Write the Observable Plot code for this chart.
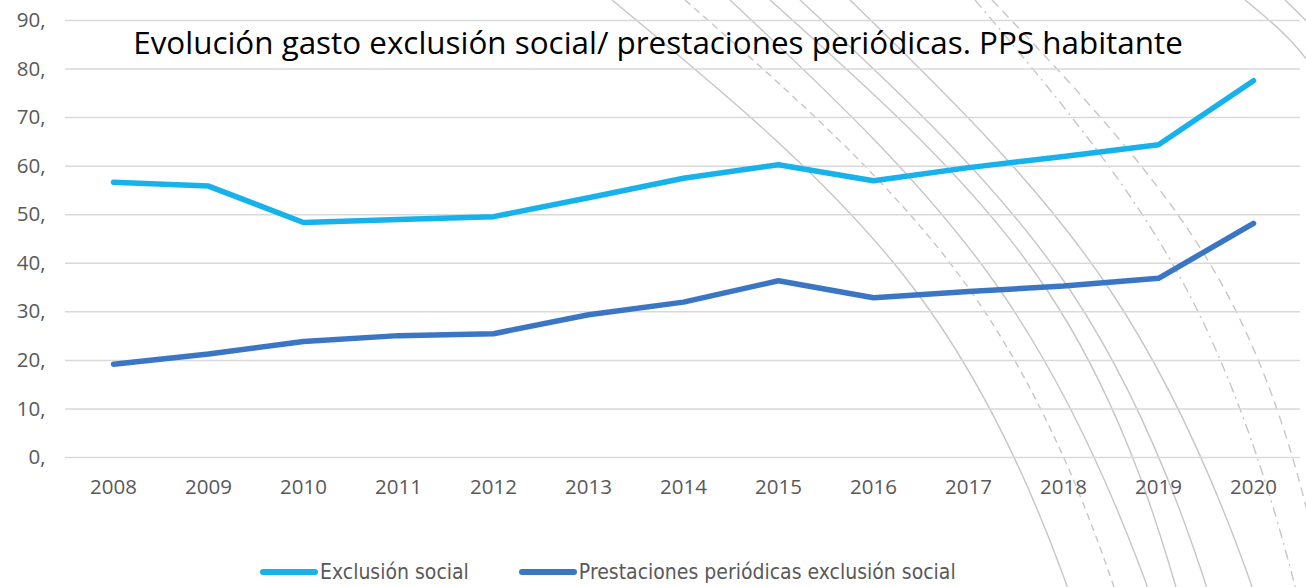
<!DOCTYPE html>
<html>
<head>
<meta charset="utf-8">
<script src="https://cdn.jsdelivr.net/npm/d3@7"></script>
<script src="https://cdn.jsdelivr.net/npm/@observablehq/plot@0.6"></script>
<style>
  html, body { margin: 0; padding: 0; background: #fff; }
  #wrap { position: relative; width: 1306px; height: 587px; overflow: hidden; }
  #deco { position: absolute; left: 0; top: 0; }
  #chart { position: absolute; left: 0; top: 0; }
  #title { position: absolute; left: 0; width: 1316px; top: 20px; text-align: center;
           font-family: "Open Sans", sans-serif; font-size: 31.4px; color: #000; white-space: nowrap; }
  #legend { position: absolute; top: 560px; left: 260px; display: flex; align-items: center;
            font-family: "Liberation Sans Narrow", "DejaVu Sans Condensed", sans-serif; font-size: 21px; color: #595959; }
  .item { display: flex; align-items: center; margin-right: 50px; }
  .sw { width: 58px; height: 6px; border-radius: 3px; margin-right: 2px; }
</style>
</head>
<body>
<div id="wrap">
  <svg id="deco" width="1306" height="587"></svg>
  <div id="chart"></div>
  <div id="title">Evolución gasto exclusión social/ prestaciones periódicas. PPS habitante</div>
  <div id="legend"></div>
</div>
<script>
// ---- data ----
const years = ["2008","2009","2010","2011","2012","2013","2014","2015","2016","2017","2018","2019","2020"];
const exclusionSocial = [56.7, 55.9, 48.4, 49.0, 49.6, 53.5, 57.5, 60.3, 57.0, 59.7, 62.0, 64.4, 77.6];
const prestacionesPeriodicas = [19.2, 21.3, 23.9, 25.1, 25.5, 29.4, 32.0, 36.4, 32.9, 34.2, 35.3, 36.9, 48.2];
const seriesNames = ["Exclusión social", "Prestaciones periódicas exclusión social"];
const seriesColors = ["#17b2ec", "#3b76c4"];
const yTicks = [0, 10, 20, 30, 40, 50, 60, 70, 80, 90];

// decorative background arcs (theme decoration, not data)
const decoArcs = [
  {pts: [[612,0],[915,290],[1060,567],[1068,600]], dash: null},
  {pts: [[685,0],[970,290],[1107,567],[1115,600]], dash: "7,5"},
  {pts: [[730,0],[1000,290],[1140,567],[1148,600]], dash: null},
  {pts: [[770,0],[1047,290],[1170,567],[1177,600]], dash: null},
  {pts: [[800,0],[1070,290],[1200,567],[1207,600]], dash: null},
  {pts: [[850,0],[1110,290],[1245,567],[1252,600]], dash: null},
  {pts: [[975,0],[1187,290],[1290,567],[1296,600]], dash: "10,5,2,5"},
  {pts: [[992,0],[1225,290],[1320,567],[1325,600]], dash: "9,6"},
  {pts: [[1245,0],[1290,40],[1330,90]], dash: null},
  {pts: [[1285,0],[1310,25],[1330,50]], dash: null}
];

const deco = d3.select("#deco");
const lineGen = d3.line().curve(d3.curveNatural);
decoArcs.forEach(a => {
  deco.append("path").attr("d", lineGen(a.pts)).attr("fill", "none")
    .attr("stroke", "#c6c6c6").attr("stroke-width", 1.4)
    .attr("stroke-dasharray", a.dash);
});

// ---- table ----
const rows = [];
years.forEach((y, i) => {
  rows.push({year: y, value: exclusionSocial[i], series: seriesNames[0]});
  rows.push({year: y, value: prestacionesPeriodicas[i], series: seriesNames[1]});
});

const chart = Plot.plot({
  width: 1306,
  height: 540,
  marginLeft: 65,
  marginRight: 6,
  marginTop: 20,
  marginBottom: 83,
  style: {background: "transparent", fontFamily: "'Open Sans', sans-serif", fontSize: "20.5px", color: "#595959"},
  x: {type: "point", domain: years, padding: 0.5, label: null},
  y: {domain: [0, 90], label: null},
  color: {domain: seriesNames, range: seriesColors},
  marks: [
    Plot.ruleY(yTicks, {stroke: "#d9d9d9", strokeWidth: 1.5}),
    Plot.axisY(yTicks, {tickSize: 0, tickPadding: 20, tickFormat: d => d + ",", label: null, fill: "#595959"}),
    Plot.axisX({tickSize: 0, tickPadding: 22, label: null, fill: "#595959"}),
    Plot.line(rows, {x: "year", y: "value", z: "series", stroke: "series", strokeWidth: 5.5,
      strokeLinecap: "round", strokeLinejoin: "round"})
  ]
});
document.getElementById("chart").appendChild(chart);

// legend
const legend = d3.select("#legend");
seriesNames.forEach((n, i) => {
  const it = legend.append("div").attr("class", "item");
  it.append("div").attr("class", "sw").style("background", seriesColors[i]);
  it.append("span").text(n);
});
</script>
</body>
</html>
